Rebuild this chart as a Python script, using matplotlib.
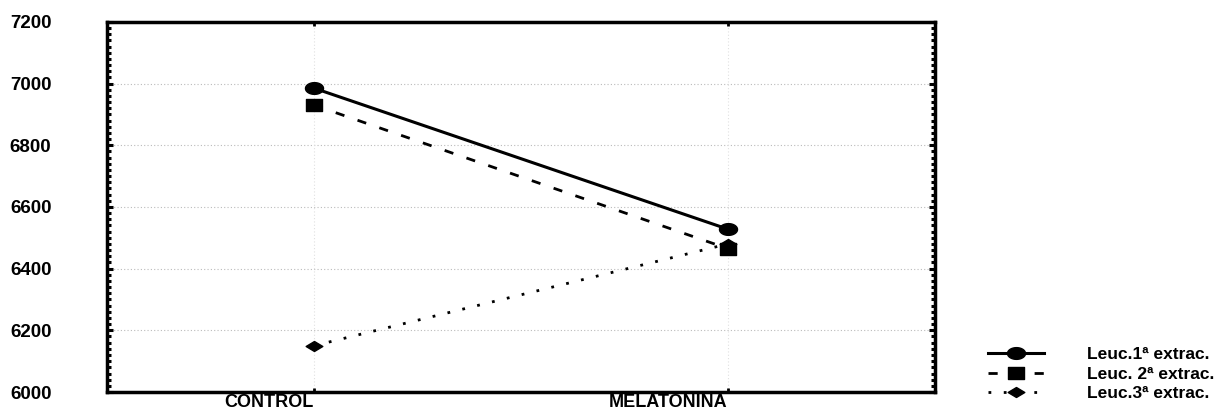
import matplotlib
matplotlib.use("Agg")
import matplotlib.pyplot as plt
from matplotlib.ticker import MultipleLocator
from matplotlib.path import Path
import numpy as np

categories = ["CONTROL", "MELATONINA"]
leuc1 = [6985, 6528]
leuc2 = [6930, 6465]
leuc3 = [6150, 6480]
labels = ["Leuc.1ª extrac.", "Leuc. 2ª extrac.", "Leuc.3ª extrac."]
yticks = [6000, 6200, 6400, 6600, 6800, 7000, 7200]

plt.rcParams['font.family'] = ['Liberation Sans', 'DejaVu Sans']
plt.rcParams['font.weight'] = 'bold'

# flattened marker shapes like the reference
t = np.linspace(0, 2 * np.pi, 40)
ellipse = Path(np.column_stack([np.cos(t), 0.65 * np.sin(t)]), closed=True)
rect = Path([(-1, -0.7), (1, -0.7), (1, 0.7), (-1, 0.7), (-1, -0.7)], closed=True)
flat_diamond = Path([(-1, 0), (0, 0.6), (1, 0), (0, -0.6), (-1, 0)], closed=True)

fig = plt.figure(figsize=(12.19, 4.15), dpi=100)
ax = fig.add_axes([0.0878, 0.0554, 0.679, 0.892])

x = list(range(len(categories)))
ax.plot(x, leuc1, color='black', lw=2.2, ls='-', marker=ellipse, ms=13,
        label=labels[0])
ax.plot(x, leuc2, color='black', lw=2.0, ls=(0, (3.3, 5.0)), marker=rect, ms=12,
        label=labels[1])
ax.plot(x, leuc3, color='black', lw=2.0, ls=(0, (1.0, 4.5)), marker=flat_diamond,
        ms=12, label=labels[2])

ax.set_xlim(-0.5, 1.5)
ax.set_ylim(6000, 7200)
ax.set_yticks(yticks)
ax.set_yticklabels([str(v) for v in yticks], fontsize=13.5, fontweight='bold')
ax.yaxis.set_minor_locator(MultipleLocator(20))
ax.set_xticks(x)
ax.set_xticklabels(categories, fontsize=13, fontweight='bold', ha='right')

ax.tick_params(axis='y', which='both', direction='in', left=True, right=True,
               width=2.2, pad=40)
ax.tick_params(axis='y', which='major', length=4)
ax.tick_params(axis='y', which='minor', length=3)
ax.tick_params(axis='x', which='major', direction='in', top=True, bottom=True,
               length=3, width=2, pad=1.5)

for s in ax.spines.values():
    s.set_linewidth(2.5)

for v in yticks[1:-1]:
    ax.axhline(v, color='#bbbbbb', lw=0.8, ls=(0, (1, 2)), zorder=0)
for xi in x:
    ax.axvline(xi, color='#e0e0e0', lw=0.8, ls=(0, (1, 2)), zorder=0)

fig.legend(loc='lower left', bbox_to_anchor=(0.798, -0.005), frameon=False,
           handlelength=3.2, handletextpad=2.5, labelspacing=0.25,
           prop={'weight': 'bold', 'size': 12.5})

fig.savefig("out.png", dpi=100)
